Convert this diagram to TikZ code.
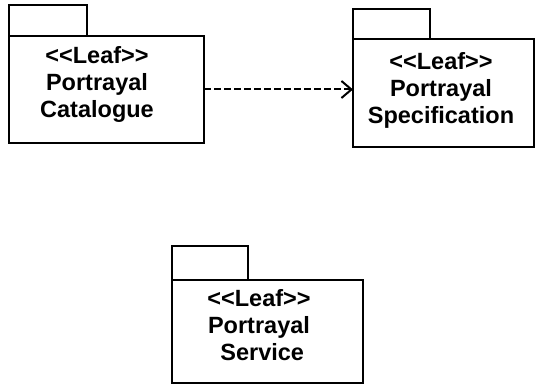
\documentclass[tikz,border=0pt]{standalone}
\usepackage{fontspec}
\setmainfont{Liberation Sans}
\usetikzlibrary{arrows.meta,positioning}

\begin{document}
\begin{tikzpicture}[x=1pt,y=-1pt,
  pkg/.style={draw,line width=2pt,inner sep=0pt,outer sep=0pt},
  pkgtab/.style={pkg,minimum width=78pt,minimum height=31pt,anchor=south west},
  pkgtext/.style={align=center,font=\fontsize{23.5}{27}\selectfont\bfseries},
  dep/.style={line width=2pt,dash pattern=on 7pt off 3pt,-{Straight Barb[length=10pt,width=17pt,line width=2pt]}}]
  \useasboundingbox (0,0) rectangle (539,385);
  % packages
  \node[pkg,minimum width=195pt,minimum height=107pt] (cat) at (106.5,89.5) {};
  \node[pkgtab] (cattab) at (cat.north west) {};
  \node[pkgtext] (catname) at (97,84.5) {<{}<Leaf>{}>\\Portrayal\\Catalogue};
  \node[pkg,minimum width=181pt,minimum height=108pt] (spec) at (443.5,93) {};
  \node[pkgtab,minimum width=77pt,minimum height=30pt] (spectab) at (spec.north west) {};
  \node[pkgtext] (specname) at (441,90) {<{}<Leaf>{}>\\Portrayal\\Specification};
  \node[pkg,minimum width=191pt,minimum height=103pt] (svc) at (267.5,331.5) {};
  \node[pkgtab,minimum width=76pt,minimum height=34pt] (svctab) at (svc.north west) {};
  \node[pkgtext] (svcname) at (259,325) {<{}<Leaf>{}>\\Portrayal\\\ Service};
  % dependency
  \draw[dep] (cat.east) -- (cat.east -| spec.west);
\end{tikzpicture}
\end{document}
